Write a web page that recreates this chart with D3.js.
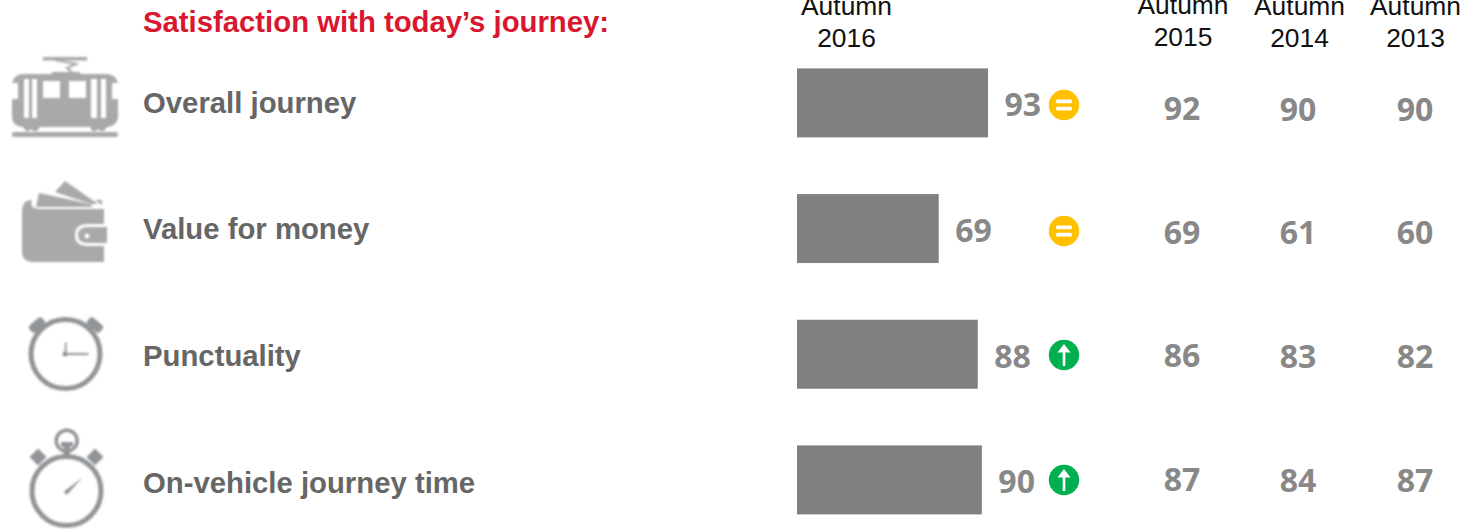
<!DOCTYPE html>
<html>
<head>
<meta charset="utf-8">
<script src="https://cdn.jsdelivr.net/npm/d3@7"></script>
<style>
html,body{margin:0;padding:0;background:#fff;overflow:hidden}
svg{display:block}
</style>
</head>
<body>
<svg id="chart" width="1465" height="529"></svg>
<script>
// Survey scores by measure
const heading = "Satisfaction with today\u2019s journey:";
const measures = ["Overall journey", "Value for money", "Punctuality", "On-vehicle journey time"];
const autumn2016 = [93, 69, 88, 90];
const trend = ["same", "same", "up", "up"];
const autumn2015 = [92, 69, 86, 87];
const autumn2014 = [90, 61, 83, 84];
const autumn2013 = [90, 60, 82, 87];
const iconNames = ["tram", "wallet", "clock", "stopwatch"];

const svg = d3.select("#chart");
const GREY = "#888888", LABEL = "#666666", ICON = "#a8a9ab", ICON_DARK = "#929497";
const NUM_FONT = "Open Sans", NUM_SIZE = 32;

const x = d3.scaleLinear().domain([0, 93]).range([797, 988]);
const row = d3.scaleBand().domain(measures).range([68.4, 514.4]).paddingInner(0.451).paddingOuter(0);
const rowMid = m => row(m) + row.bandwidth() / 2;

// bars
svg.selectAll("rect.bar").data(measures).join("rect")
  .attr("class", "bar")
  .attr("x", x(0))
  .attr("y", m => row(m))
  .attr("width", (m, i) => x(autumn2016[i]) - x(0))
  .attr("height", row.bandwidth())
  .attr("fill", "#808080");

// heading and measure names
svg.append("text").text(heading)
  .attr("x", 143).attr("y", 32)
  .attr("font-family", "Liberation Sans").attr("font-weight", 700)
  .attr("font-size", 29.3).attr("fill", "#d9172f");

const nameOffset = [10.5, 10.8, 12.2, 13.5];
svg.selectAll("text.name").data(measures).join("text")
  .attr("class", "name").text(d => d)
  .attr("x", 143)
  .attr("y", (m, i) => rowMid(m) + nameOffset[i])
  .attr("font-family", "Liberation Sans").attr("font-weight", 700)
  .attr("font-size", 29.3).attr("fill", LABEL);

// value labels
svg.selectAll("text.value").data(measures).join("text")
  .attr("class", "value").text((m, i) => autumn2016[i])
  .attr("x", (m, i) => x(autumn2016[i]) + 16.5)
  .attr("y", m => rowMid(m) + 13.5)
  .attr("font-family", NUM_FONT).attr("font-weight", 700)
  .attr("font-size", NUM_SIZE).attr("fill", GREY);

// trend badges
const badgeX = 1064, badgeY = [105, 231, 355, 480];
const badges = svg.selectAll("g.badge").data(trend).join("g")
  .attr("class", "badge")
  .attr("transform", (d, i) => `translate(${badgeX},${badgeY[i]})`);
badges.append("circle").attr("r", 15.2)
  .attr("fill", d => d === "up" ? "#00b050" : "#ffc000");
badges.filter(d => d === "same").each(function () {
  const g = d3.select(this);
  [-3.6, 3.6].forEach(dy => g.append("rect")
    .attr("x", -8).attr("y", dy - 1.9).attr("width", 16).attr("height", 3.8)
    .attr("rx", 1.5).attr("fill", "#fff"));
});
badges.filter(d => d === "up").each(function () {
  d3.select(this).append("path")
    .attr("d", "M0,-11 L6.5,-2.5 L1.3,-2.5 L1.3,11 L-1.3,11 L-1.3,-2.5 L-6.5,-2.5 Z")
    .attr("fill", "#fff");
});

// past-year columns
const columns = [
  { values: autumn2015, cx: 1182, y: [120, 244, 367, 491] },
  { values: autumn2014, cx: 1298, y: [121, 244, 368, 492] },
  { values: autumn2013, cx: 1415, y: [121, 244, 368, 492] }
];
columns.forEach(c => {
  svg.append("g").selectAll("text").data(c.values).join("text")
    .text(d => d)
    .attr("x", c.cx).attr("y", (d, i) => c.y[i])
    .attr("text-anchor", "middle")
    .attr("font-family", NUM_FONT).attr("font-weight", 700)
    .attr("font-size", NUM_SIZE).attr("fill", GREY);
});

// column headers
const headers = [
  { year: "2016", cx: 846.5, top: 15, bottom: 47 },
  { year: "2015", cx: 1183, top: 14, bottom: 46 },
  { year: "2014", cx: 1299.5, top: 15, bottom: 47 },
  { year: "2013", cx: 1415.5, top: 15, bottom: 47 }
];
headers.forEach(h => {
  [["Autumn", h.top], [h.year, h.bottom]].forEach(([t, y]) =>
    svg.append("text").text(t).attr("x", h.cx).attr("y", y)
      .attr("text-anchor", "middle")
      .attr("font-family", "Liberation Sans").attr("font-size", 26.4).attr("fill", "#111"));
});

// pictograms, slightly softened
svg.append("defs").append("filter").attr("id", "soft")
  .append("feGaussianBlur").attr("stdDeviation", 0.85);
const icons = svg.append("g").attr("fill", ICON).attr("filter", "url(#soft)");

function tram(g) {
  g.append("rect").attr("x", 43).attr("y", 57).attr("width", 44).attr("height", 3.5);
  g.append("path").attr("d", "M55,60 L76,64 L67,68 L73,73").attr("fill", "none").attr("stroke", ICON).attr("stroke-width", 2.2);
  g.append("path").attr("fill-rule", "evenodd").attr("d",
    "M52,74 L52,72 L80,72 L80,74 L108,74 Q116,75 118,83 L112,83 L112,99 L118,99 L118,118 Q116,126 108,127 L107,127 L104,131 L100,131 L98,129 L96,131 L92,131 L90,127 L40,127 L37,131 L33,131 L31,129 L29,131 L26,131 L23,127 L22,127 Q13,126 12,118 L12,99 L18,99 L18,83 L12,83 Q14,75 22,74 Z" +
    "M24,79 H29 V118 H24 Z M32,79 H37 V118 H32 Z" +
    "M43,81 H60 V98 H43 Z M69,81 H86 V98 H69 Z" +
    "M91,79 H97 V118 H91 Z M101,79 H106 V118 H101 Z");
  g.append("rect").attr("x", 12).attr("y", 132).attr("width", 106).attr("height", 5).attr("rx", 2);
}

function wallet(g) {
  g.append("path").attr("d", "M55,192 L65,181 L98,204 L91,204 Z");
  g.append("path").attr("d", "M36,207 L39,193 L90,204 L93,207 Z");
  g.append("path").attr("d", "M95,200 H102 V205 Z");
  g.append("path").attr("d",
    "M32,200 Q22,200 22,212 L22,251 Q22,262 33,262 L104,262 L104,246 L88,246 Q75,246 75,235 Q75,224 88,224 L104,224 L104,209 L38,209 Q29,208 32,200 Z");
  g.append("path").attr("fill-rule", "evenodd").attr("d",
    "M88,227 H107 V243 H88 Q78,243 78,235 Q78,227 88,227 Z M87,233.5 a2.5,2.5 0 1,0 0.01,0 Z");
}

function clock(g) {
  g.append("circle").attr("cx", 65.5).attr("cy", 354).attr("r", 34.5)
    .attr("fill", "none").attr("stroke", ICON_DARK).attr("stroke-width", 5);
  [[37, 325, -40], [95, 325, 40]].forEach(([cx, cy, a]) =>
    g.append("rect").attr("x", cx - 8.5).attr("y", cy - 4.5).attr("width", 17).attr("height", 9).attr("rx", 3.5)
      .attr("fill", ICON_DARK).attr("transform", `rotate(${a} ${cx} ${cy})`));
  g.append("circle").attr("cx", 65).attr("cy", 354).attr("r", 2.5).attr("fill", ICON_DARK);
  g.append("path").attr("d", "M65.7,342.5 V354 H88.5").attr("fill", "none").attr("stroke", ICON_DARK).attr("stroke-width", 1.8);
}

function stopwatch(g) {
  g.append("circle").attr("cx", 66.5).attr("cy", 491).attr("r", 34.5)
    .attr("fill", "none").attr("stroke", ICON_DARK).attr("stroke-width", 5);
  g.append("circle").attr("cx", 66.7).attr("cy", 440.7).attr("r", 10.5)
    .attr("fill", "none").attr("stroke", ICON_DARK).attr("stroke-width", 3.5);
  g.append("path").attr("d", "M61,442 H73 V446 L70,447 V456 H63.5 V447 L61,446 Z").attr("fill", ICON_DARK);
  [[38, 457, 45], [95, 457, -45]].forEach(([cx, cy, a]) =>
    g.append("rect").attr("x", cx - 6).attr("y", cy - 6).attr("width", 12).attr("height", 12)
      .attr("fill", ICON_DARK).attr("transform", `rotate(${a} ${cx} ${cy})`));
  g.append("path").attr("d", "M65.5,490.5 L83,477 L68,493.5 Z").attr("fill", ICON_DARK);
  g.append("circle").attr("cx", 66.5).attr("cy", 492).attr("r", 2.2).attr("fill", ICON_DARK);
}

const painters = { tram, wallet, clock, stopwatch };
iconNames.forEach(n => painters[n](icons.append("g").attr("class", n)));
</script>
</body>
</html>
